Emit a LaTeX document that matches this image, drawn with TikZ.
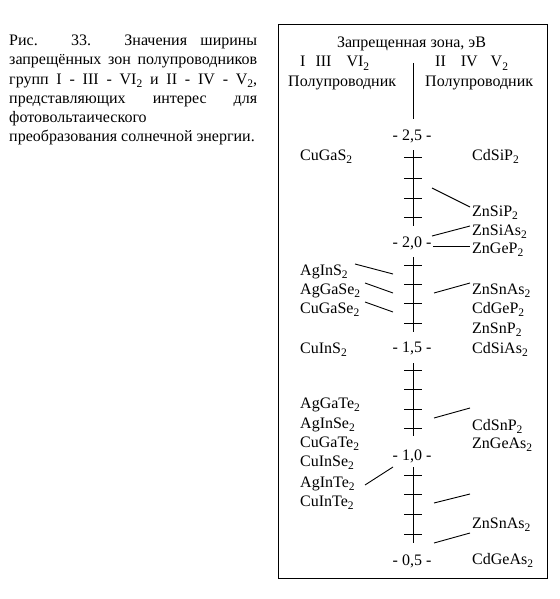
\documentclass[tikz,border=0pt]{standalone}
\usepackage{fontspec}
\setmainfont{Liberation Serif}
\newcommand\myfs{\fontsize{16}{19}\selectfont}
\newcommand\sub[1]{\raisebox{-3.5pt}{\fontsize{11.5}{11.5}\selectfont #1}}
\begin{document}
\begin{tikzpicture}[x=1pt,y=-1pt,
  lbl/.style={anchor=base west, inner sep=0pt, font=\myfs},
  captxt/.style={anchor=base west, inner sep=0pt, font=\myfs},
  scl/.style={anchor=base, inner sep=0pt, font=\myfs},
  axisline/.style={line width=1pt},
  tickline/.style={line width=1pt},
  conn/.style={line width=0.9pt}]
\useasboundingbox (0,0) rectangle (559,599);
% caption
\node[captxt] (c1) at (9,45.7) {\makebox[248pt][s]{Рис. 33. Значения ширины}};
\node[captxt] (c2) at (9,65) {\makebox[248pt][s]{запрещённых зон полупроводников}};
\node[captxt] (c3) at (9,84.5) {\makebox[248pt][s]{групп I - III - VI\sub{2} и II - IV - V\sub{2},}};
\node[captxt] (c4) at (9,104) {\makebox[248pt][s]{представляющих интерес для}};
\node[captxt] (c5) at (9,122.7) {фотовольтаического};
\node[captxt] (c6) at (9,141.7) {преобразования солнечной энергии.};
% frame
\draw[line width=1pt] (278.5,24.5) rectangle (547.5,578.5);
% header
\node[scl] (h0) at (411.5,48) {Запрещенная зона, эВ};
\node[lbl] (h1) at (300,67) {I\hspace{10pt}III\hspace{15pt}VI\sub{2}};
\node[lbl] (h2) at (435,67) {II\hspace{15pt}IV\hspace{13pt}V\sub{2}};
\node[lbl] (h3) at (288,87) {Полупроводник};
\node[lbl] (h4) at (425,87) {Полупроводник};
% axis
\coordinate (a0) at (413,63); \coordinate (a0e) at (413,119);
\draw[axisline] (a0) -- (a0e);
\node[scl] (s25) at (412,140) {- 2,5 -};
\node[scl] (s20) at (412,247) {- 2,0 -};
\node[scl] (s15) at (412,352) {- 1,5 -};
\node[scl] (s10) at (412,460) {- 1,0 -};
\node[scl] (s05) at (412,565) {- 0,5 -};
\foreach \ya/\yb in {150/226, 257/332, 363/436, 467/543}
  \draw[axisline] (413,\ya) -- (413,\yb);
\foreach \t in {157,178,198,217, 265,284,303,323, 370,389,409,428, 475,494,514,534}
  \draw[tickline] (404,\t) -- (422,\t);
% left labels
\node[lbl] (l1) at (300,160) {CuGaS\sub{2}};
\node[lbl] (l2) at (300,275) {AgInS\sub{2}};
\node[lbl] (l3) at (300,294) {AgGaSe\sub{2}};
\node[lbl] (l4) at (300,313) {CuGaSe\sub{2}};
\node[lbl] (l5) at (300,353) {CuInS\sub{2}};
\node[lbl] (l6) at (300,408) {AgGaTe\sub{2}};
\node[lbl] (l7) at (300,428) {AgInSe\sub{2}};
\node[lbl] (l8) at (300,447) {CuGaTe\sub{2}};
\node[lbl] (l9) at (300,466) {CuInSe\sub{2}};
\node[lbl] (l10) at (300,487) {AgInTe\sub{2}};
\node[lbl] (l11) at (300,506) {CuInTe\sub{2}};
% right labels
\node[lbl] (r1) at (472,160) {CdSiP\sub{2}};
\node[lbl] (r2) at (472,216) {ZnSiP\sub{2}};
\node[lbl] (r3) at (472,235) {ZnSiAs\sub{2}};
\node[lbl] (r4) at (472,253) {ZnGeP\sub{2}};
\node[lbl] (r5) at (472,294) {ZnSnAs\sub{2}};
\node[lbl] (r6) at (472,313) {CdGeP\sub{2}};
\node[lbl] (r7) at (472,333) {ZnSnP\sub{2}};
\node[lbl] (r8) at (472,353) {CdSiAs\sub{2}};
\node[lbl] (r9) at (472,430) {CdSnP\sub{2}};
\node[lbl] (r10) at (472,448) {ZnGeAs\sub{2}};
\node[lbl] (r11) at (472,528) {ZnSnAs\sub{2}};
\node[lbl] (r12) at (472,564) {CdGeAs\sub{2}};
% connectors
\draw[conn] (432,188) -- (470,207);
\draw[conn] (432,236) -- (470,226);
\draw[conn] (433,246) -- (470,246);
\draw[conn] (355,264) -- (393,274);
\draw[conn] (365,283) -- (393,293);
\draw[conn] (365,302) -- (393,312);
\draw[conn] (434,293) -- (470,283);
\draw[conn] (434,418) -- (470,408);
\draw[conn] (365,485) -- (393,467);
\draw[conn] (434,503) -- (470,494);
\draw[conn] (434,543) -- (470,533);
\end{tikzpicture}
\end{document}
